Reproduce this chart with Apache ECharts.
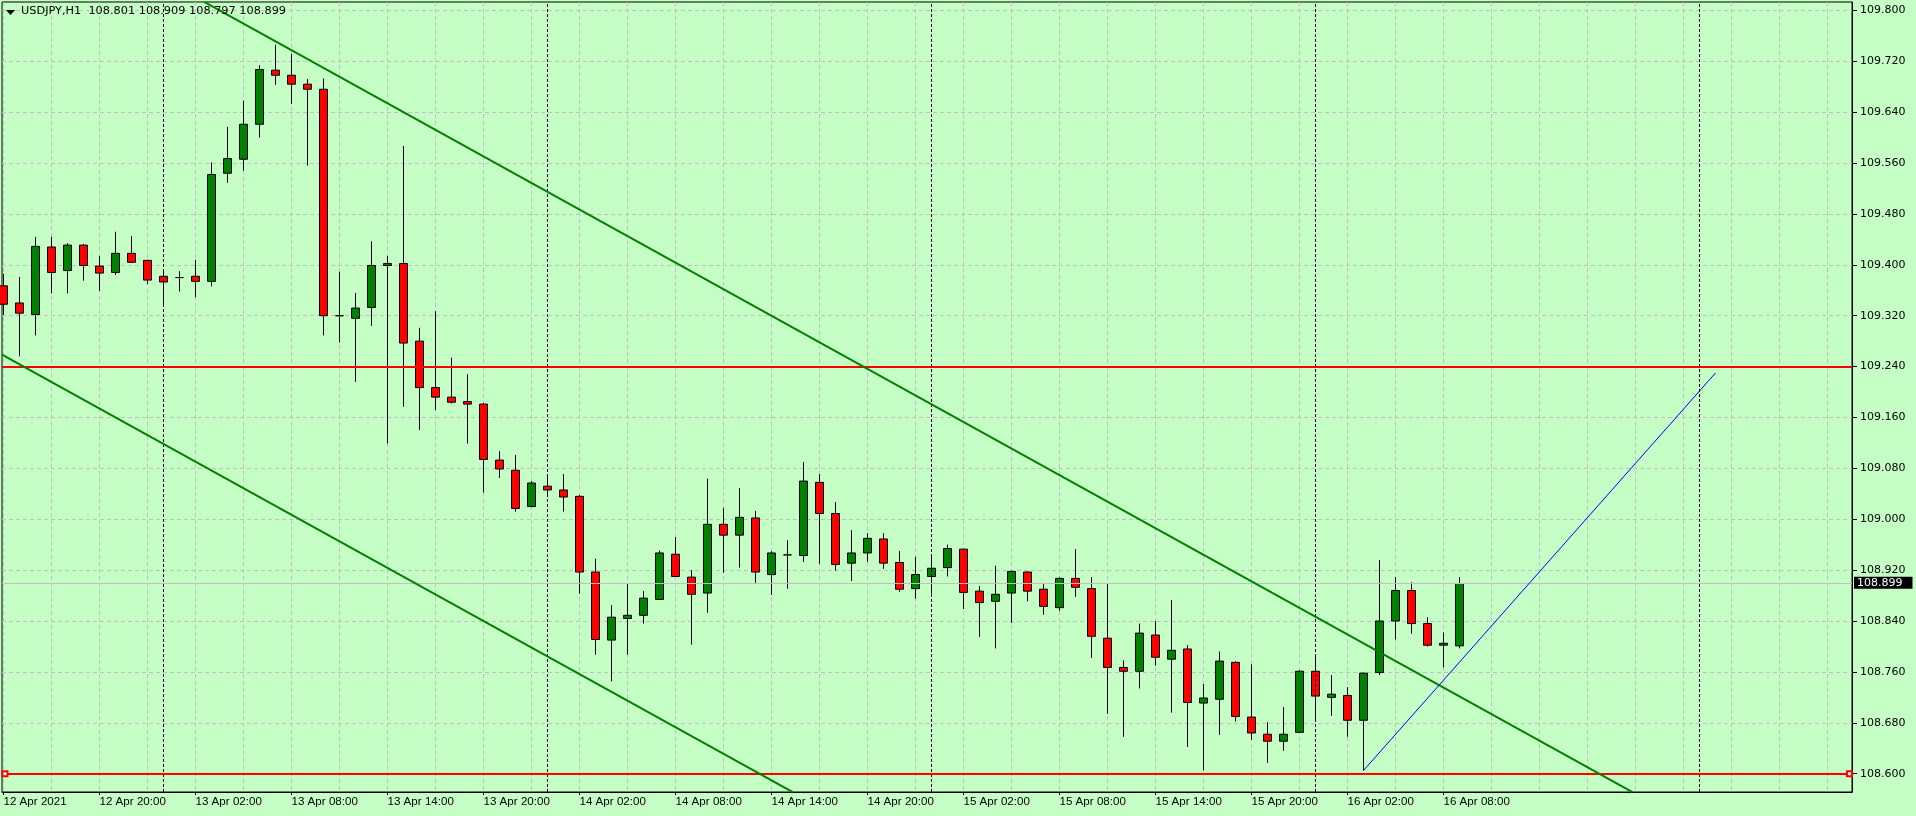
<!DOCTYPE html>
<html>
<head>
<meta charset="utf-8">
<script src="https://cdn.jsdelivr.net/npm/echarts@6/dist/echarts.min.js"></script>
<style>
  html, body { margin: 0; padding: 0; background: #c5ffc5; }
  #chart { width: 1916px; height: 816px; }
</style>
</head>
<body>
<div id="chart"></div>
<script>
/* USDJPY H1, bars from 12 Apr 14:00 (hour 14 counted from 12 Apr 00:00) */
const FIRST_HOUR = 14
const OPEN = [
  109.367, 109.340, 109.322, 109.428, 109.391, 109.431, 109.398, 109.388, 109.418, 109.407,
  109.382, 109.380, 109.382, 109.374, 109.544, 109.566, 109.621, 109.706, 109.698, 109.684,
  109.676, 109.320, 109.316, 109.333, 109.399, 109.402, 109.280, 109.207, 109.192, 109.185,
  109.181, 109.093, 109.077, 109.020, 109.052, 109.046, 109.036, 108.917, 108.810, 108.844,
  108.849, 108.874, 108.945, 108.909, 108.884, 108.992, 108.975, 109.002, 108.913, 108.944,
  108.943, 109.058, 109.009, 108.931, 108.947, 108.969, 108.932, 108.891, 108.910, 108.924,
  108.953, 108.887, 108.871, 108.884, 108.917, 108.890, 108.861, 108.907, 108.891, 108.813,
  108.767, 108.761, 108.818, 108.780, 108.796, 108.711, 108.717, 108.775, 108.689, 108.662,
  108.651, 108.665, 108.761, 108.720, 108.723, 108.684, 108.759, 108.840, 108.888, 108.836,
  108.802, 108.801,
]
const CLOSE = [
  109.338, 109.324, 109.429, 109.388, 109.431, 109.399, 109.387, 109.418, 109.404, 109.376,
  109.373, 109.380, 109.374, 109.542, 109.567, 109.621, 109.707, 109.698, 109.684, 109.676,
  109.320, 109.320, 109.332, 109.399, 109.402, 109.277, 109.207, 109.192, 109.184, 109.181,
  109.094, 109.079, 109.017, 109.057, 109.046, 109.035, 108.917, 108.811, 108.846, 108.849,
  108.876, 108.947, 108.910, 108.882, 108.992, 108.975, 109.003, 108.917, 108.947, 108.944,
  109.060, 109.009, 108.929, 108.947, 108.970, 108.931, 108.890, 108.913, 108.923, 108.954,
  108.885, 108.869, 108.882, 108.918, 108.887, 108.863, 108.907, 108.893, 108.816, 108.767,
  108.761, 108.821, 108.783, 108.794, 108.712, 108.719, 108.777, 108.690, 108.664, 108.651,
  108.662, 108.761, 108.722, 108.725, 108.684, 108.758, 108.840, 108.888, 108.836, 108.802,
  108.805, 108.899,
]
const LOW = [
  109.321, 109.256, 109.289, 109.355, 109.355, 109.375, 109.359, 109.384, 109.403, 109.370,
  109.338, 109.358, 109.349, 109.366, 109.529, 109.548, 109.600, 109.683, 109.653, 109.556,
  109.289, 109.278, 109.216, 109.304, 109.119, 109.177, 109.140, 109.172, 109.182, 109.119,
  109.042, 109.065, 109.012, 109.019, 109.039, 109.012, 108.883, 108.787, 108.745, 108.787,
  108.836, 108.873, 108.909, 108.803, 108.853, 108.916, 108.924, 108.900, 108.881, 108.891,
  108.933, 108.930, 108.919, 108.903, 108.933, 108.922, 108.886, 108.875, 108.883, 108.910,
  108.859, 108.815, 108.797, 108.837, 108.871, 108.850, 108.856, 108.878, 108.782, 108.694,
  108.658, 108.734, 108.770, 108.696, 108.642, 108.605, 108.661, 108.682, 108.653, 108.617,
  108.636, 108.664, 108.682, 108.691, 108.658, 108.605, 108.755, 108.811, 108.820, 108.800,
  108.767, 108.797,
]
const HIGH = [
  109.386, 109.381, 109.444, 109.444, 109.434, 109.433, 109.414, 109.452, 109.445, 109.408,
  109.392, 109.390, 109.408, 109.561, 109.617, 109.658, 109.714, 109.746, 109.731, 109.692,
  109.693, 109.389, 109.356, 109.437, 109.414, 109.587, 109.301, 109.327, 109.254, 109.228,
  109.183, 109.107, 109.101, 109.060, 109.068, 109.071, 109.038, 108.938, 108.865, 108.899,
  108.887, 108.951, 108.972, 108.920, 109.064, 109.018, 109.049, 109.013, 108.950, 108.967,
  109.090, 109.071, 109.027, 108.983, 108.978, 108.978, 108.950, 108.941, 108.945, 108.960,
  108.954, 108.895, 108.927, 108.919, 108.918, 108.898, 108.909, 108.953, 108.909, 108.898,
  108.778, 108.836, 108.840, 108.873, 108.802, 108.741, 108.792, 108.777, 108.772, 108.681,
  108.705, 108.763, 108.785, 108.755, 108.736, 108.759, 108.936, 108.909, 108.901, 108.846,
  108.822, 108.909,
]

const X_TICK_HOURS = [14, 20, 26, 32, 38, 44, 50, 56, 62, 68, 74, 80, 86, 92, 98, 104]
const X_TICK_LABELS = [
  '12 Apr 2021', '12 Apr 20:00', '13 Apr 02:00', '13 Apr 08:00', '13 Apr 14:00', '13 Apr 20:00',
  '14 Apr 02:00', '14 Apr 08:00', '14 Apr 14:00', '14 Apr 20:00', '15 Apr 02:00', '15 Apr 08:00',
  '15 Apr 14:00', '15 Apr 20:00', '16 Apr 02:00', '16 Apr 08:00',
]
const DAY_SEPARATORS = [24, 48, 72, 96, 120]
const Y_TICKS = [
  108.600, 108.680, 108.760, 108.840, 108.920, 109.000, 109.080, 109.160,
  109.240, 109.320, 109.400, 109.480, 109.560, 109.640, 109.720, 109.800,
]
const LAST_PRICE = 108.899
const LEVELS = [109.240, 108.600]
// [start hour, start price, end hour, end price]
const CHANNEL_UPPER = [26.57, 109.8132, 115.81, 108.5712]
const CHANNEL_LOWER = [13.906, 109.259, 63.33, 108.5712]
const BLUE_LINE = [99, 108.605, 121, 109.230]

const X_MIN = 13.906, X_MAX = 129.531
const Y_MIN = 108.5712, Y_MAX = 109.8132

const BG = '#c5ffc5'
const GRID_GRAY = '#c0c0c0'

// gray vertical grid every 3 bars, also into the future area
const gridHours = []
for (let h = FIRST_HOUR; h <= X_MAX; h += 3) gridHours.push(h)

const candles = OPEN.map((o, i) => [FIRST_HOUR + i, o, CLOSE[i], LOW[i], HIGH[i]])

function seg(p, style, extra) {
  return [
    Object.assign({ coord: [p[0], p[1]], lineStyle: style }, extra || {}),
    Object.assign({ coord: [p[2], p[3]] }, extra || {}),
  ]
}

const chart = echarts.init(document.getElementById('chart'), null, { renderer: 'canvas' })

chart.setOption({
  animation: false,
  backgroundColor: BG,
  grid: {
    left: 2, right: 64, top: 2, bottom: 24,
    show: true, backgroundColor: BG, borderColor: '#000', borderWidth: 1,
  },
  graphic: [
    { type: 'polygon', shape: { points: [[6, 10], [15, 10], [10.5, 15]] }, style: { fill: '#000' }, z: 100 },
    {
      type: 'text', left: 21, top: 6, z: 100,
      style: {
        text: 'USDJPY,H1  108.801 108.909 108.797 108.899',
        font: '11.3px "DejaVu Sans"', fill: '#000',
      },
    },
  ],
  xAxis: [
    {
      type: 'value', min: X_MIN, max: X_MAX, position: 'bottom',
      axisLine: { show: true, onZero: false, lineStyle: { color: '#000', width: 1 } },
      axisTick: { show: true, length: 3, customValues: X_TICK_HOURS, lineStyle: { color: '#000' } },
      axisLabel: {
        customValues: X_TICK_HOURS,
        align: 'left', margin: 4,
        color: '#000', fontFamily: 'Liberation Sans', fontSize: 11.6,
        formatter: v => X_TICK_LABELS[X_TICK_HOURS.indexOf(Math.round(v))] || '',
      },
      splitLine: { show: false },
    },
    {
      type: 'value', min: X_MIN, max: X_MAX, position: 'top',
      axisLine: { show: false },
      axisTick: { show: false, customValues: gridHours },
      axisLabel: { show: false },
      splitLine: { show: true, lineStyle: { color: GRID_GRAY, type: [4, 3], width: 1 } },
    },
  ],
  yAxis: {
    type: 'value', position: 'right', min: Y_MIN, max: Y_MAX,
    axisLine: { show: true, lineStyle: { color: '#000', width: 1 } },
    axisTick: { show: true, length: 5, customValues: Y_TICKS, lineStyle: { color: '#000' } },
    axisLabel: {
      customValues: Y_TICKS, margin: 8,
      color: '#000', fontFamily: 'DejaVu Sans', fontSize: 11,
      formatter: v => v.toFixed(3),
    },
    splitLine: { show: true, lineStyle: { color: GRID_GRAY, type: [4, 3], width: 1 } },
  },
  series: [
    {
      // background objects: day separators and bid line
      type: 'line', data: [], z: 1, silent: true,
      markLine: {
        silent: true, symbol: 'none', animation: false,
        label: { show: false },
        data: [
          ...DAY_SEPARATORS.map(h => ({ xAxis: h, lineStyle: { color: '#000', type: [3, 2], width: 1 } })),
          {
            yAxis: LAST_PRICE,
            lineStyle: { color: GRID_GRAY, type: 'solid', width: 1 },
            label: {
              show: true, position: 'end', distance: 2,
              formatter: LAST_PRICE.toFixed(3),
              backgroundColor: '#000', color: '#fff',
              fontFamily: 'DejaVu Sans', fontSize: 11,
              padding: [1, 10, 0, 3],
            },
          },
        ],
      },
    },
    {
      type: 'candlestick',
      data: candles,
      z: 2,
      barWidth: 9,
      itemStyle: {
        color: '#008000', color0: '#ff0000',
        borderColor: '#000', borderColor0: '#000', borderColorDoji: '#000',
        borderWidth: 1,
      },
      markLine: {
        silent: true, symbol: 'none', animation: false,
        label: { show: false },
        data: [
          seg([X_MIN, LEVELS[0], X_MAX, LEVELS[0]], { color: '#ff0000', width: 2, type: 'solid' }),
          seg([X_MIN, LEVELS[1], X_MAX, LEVELS[1]], { color: '#ff0000', width: 2, type: 'solid' }),
          seg([14.09, LEVELS[1], 129.37, LEVELS[1]], { color: '#ff0000', width: 2, type: 'solid' },
            { symbol: 'emptyRect', symbolSize: 5 }),
          seg(CHANNEL_UPPER, { color: '#008000', width: 2, type: 'solid' }),
          seg(CHANNEL_LOWER, { color: '#008000', width: 2, type: 'solid' }),
          seg(BLUE_LINE, { color: '#0000ff', width: 1, type: 'solid' }),
        ],
      },
    },
  ],
})
</script>
</body>
</html>
